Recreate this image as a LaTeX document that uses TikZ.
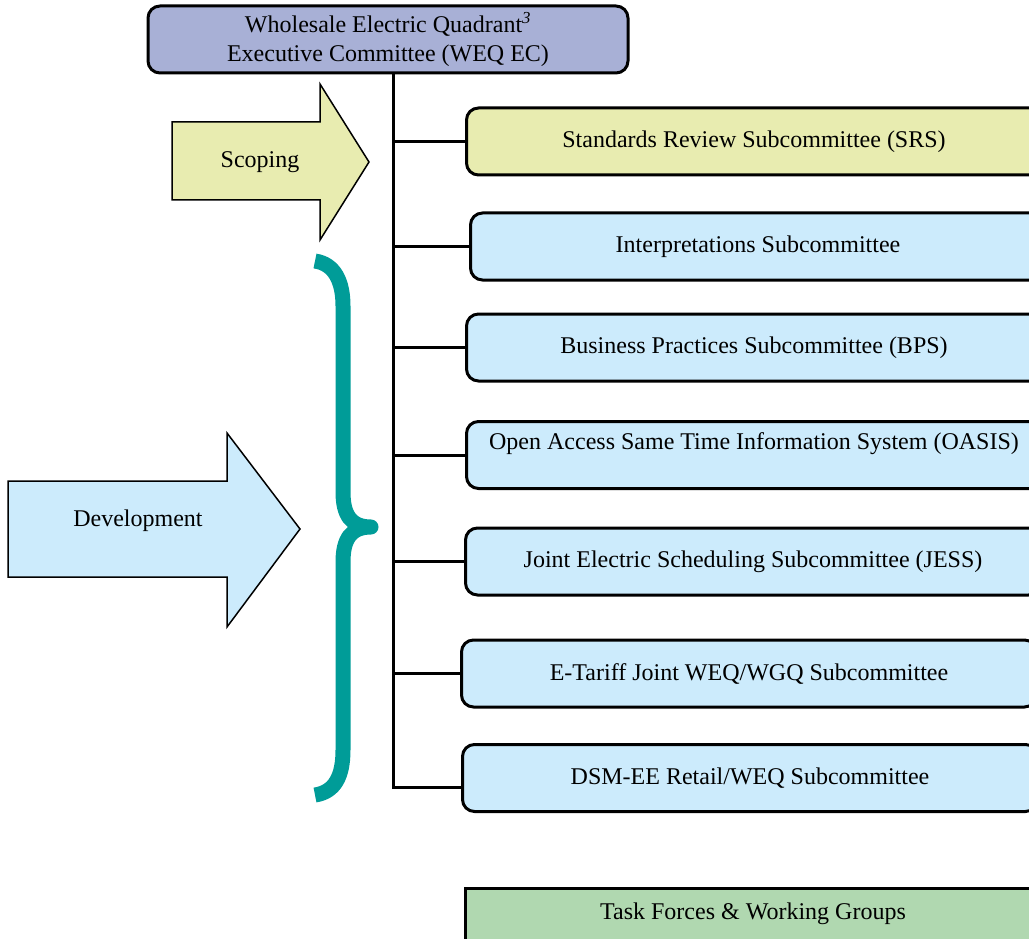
\documentclass[tikz,border=0pt]{standalone}
\usepackage{fontspec}
\setmainfont{Liberation Serif}
\usetikzlibrary{positioning, calc}
\definecolor{weqFill}{HTML}{A8B0D6}
\definecolor{scopeFill}{HTML}{E8ECB0}
\definecolor{devFill}{HTML}{CCEBFC}
\definecolor{taskFill}{HTML}{B0D8B0}
\definecolor{braceTeal}{HTML}{009C98}

\tikzset{
  subbox/.style={draw=black, line width=3pt, rounded corners=12pt, anchor=west,
    minimum width=575pt, minimum height=67pt, inner sep=0pt},
  branch/.style={draw=black, line width=3pt},
  bigarrow/.style={draw=black, line width=1.5pt, line join=miter},
}

\begin{document}
\begin{tikzpicture}[x=1pt, y=-1pt, font=\fontsize{24}{29}\selectfont]
    \useasboundingbox (0,0) rectangle (1029,939);
    \clip (0,0) rectangle (1029,939);

    % top committee
    \node[draw=black, line width=3pt, rounded corners=12pt, fill=weqFill,
      minimum width=480pt, minimum height=67pt, align=center, inner sep=0pt]
      (weq) at (388,39.5) {Wholesale Electric Quadrant\textsuperscript{\itshape 3}\\Executive Committee (WEQ EC)};

    % subcommittees
    \node[subbox, fill=scopeFill] (srs) at (465,141.5) {Standards Review Subcommittee (SRS)};
    \node[subbox, fill=devFill] (interp) at (469,246.5) {Interpretations Subcommittee};
    \node[subbox, fill=devFill] (bps) at (465,347.5) {Business Practices Subcommittee (BPS)};
    \node[subbox, fill=devFill, text depth=28pt] (oasis) at (465,455) {Open Access Same Time Information System (OASIS)};
    \node[subbox, fill=devFill] (jess) at (464,561.5) {Joint Electric Scheduling Subcommittee (JESS)};
    \node[subbox, fill=devFill] (etariff) at (460,673.5) {E-Tariff Joint WEQ/WGQ Subcommittee};
    \node[subbox, fill=devFill] (dsm) at (461,778) {DSM-EE Retail/WEQ Subcommittee};
    \node[draw=black, line width=3pt, fill=taskFill, anchor=north west, minimum width=575pt,
      minimum height=80pt, inner sep=0pt, text depth=34pt] (task) at (464,887) {Task Forces \& Working Groups};

    % trunk and branches
    \coordinate (trunk) at (393,0);
    \coordinate (dsmend) at ([yshift=-9pt]dsm.west);
    \draw[branch] (weq.south -| trunk) -- (trunk |- dsmend) -- (dsmend);
    \foreach \sub in {srs, interp, bps, oasis, jess, etariff}
        \draw[branch] (trunk |- \sub.west) -- (\sub.west);

    % scoping arrow
    \draw[bigarrow, fill=scopeFill] (172,122) -- (320,122) -- (320,84) -- (369,162)
        -- (320,240) -- (320,200) -- (172,200) -- cycle;
    \node (scoping) at (260,162) {Scoping};

    % development arrow
    \draw[bigarrow, fill=devFill] (8,481) -- (227,481) -- (227,433) -- (300,529)
        -- (227,627) -- (227,577) -- (8,577) -- cycle;
    \node (development) at (138,521) {Development};

    % brace
    \draw[braceTeal, line width=15pt, line join=round]
        (315,261) .. controls (335,264) and (343,282) .. (343,306) -- (343,492)
        .. controls (343,515) and (351,527) .. (371,527)
        .. controls (351,527) and (343,539) .. (343,562) -- (343,750)
        .. controls (343,776) and (335,792) .. (315,795);
\end{tikzpicture}
\end{document}
